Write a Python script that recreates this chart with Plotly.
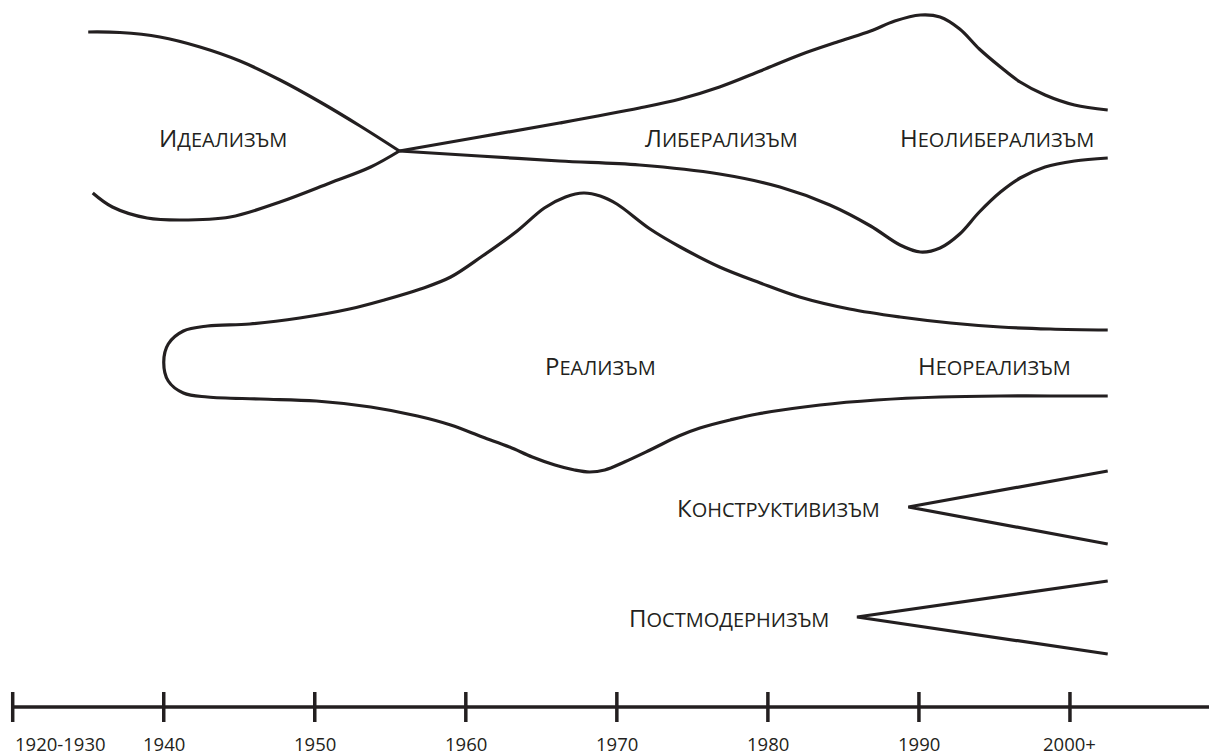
import plotly.graph_objects as go

INK = "#231f20"

# ---- timeline ----
tick_years = [1930, 1940, 1950, 1960, 1970, 1980, 1990, 2000]
tick_labels = ["1920-1930", "1940", "1950", "1960", "1970", "1980", "1990", "2000+"]
axis_end_year = 2009.6
axis_level = 707

# ---- curves (x = year, y = vertical position in diagram units, top = 0) ----
ideal_upper_x = [1935.0, 1937.1, 1939.75, 1942.4, 1945.05, 1947.7, 1950.35, 1953.0, 1955.6]
ideal_upper_y = [32, 32.5, 37, 47, 61, 80, 102, 126, 151]
ideal_lower_x = [1935.3, 1936.6, 1938.9, 1941.1, 1944.4, 1947.7, 1951.0, 1953.7, 1955.6]
ideal_lower_y = [193, 207, 218, 220, 217, 202, 183, 167, 151]

lib_upper_x = [1955.6, 1960.9, 1966.2, 1971.5, 1974.2, 1976.8, 1979.5, 1982.1, 1984.8,
               1986.8, 1988.4, 1990.1, 1991.4, 1992.7, 1994.0, 1995.4, 1996.7, 1998.35,
               2000.3, 2002.5]
lib_upper_y = [151, 137, 123, 108, 99, 87, 71, 55, 41, 31, 21, 15, 17, 29, 49, 67, 82, 95,
               105, 110]
lib_lower_x = [1955.6, 1960.9, 1966.2, 1971.5, 1976.8, 1980.8, 1984.1, 1986.8, 1988.75,
               1990.1, 1991.4, 1992.7, 1994.0, 1995.4, 1996.7, 1998.35, 2000.3, 2002.5]
lib_lower_y = [151, 156, 161, 165, 174, 187, 205, 226, 245, 252, 248, 234, 212, 192, 178,
               167, 161, 158]

real_x = [2002.5, 1998.7, 1995.4, 1992.1, 1988.75, 1985.4, 1982.1, 1979.5, 1976.8, 1974.2,
          1972.2, 1970.0, 1968.9, 1967.8, 1966.6, 1965.2, 1963.4, 1961.1, 1959.0, 1957.0,
          1954.6, 1952.3, 1949.0, 1945.7, 1942.9,
          1941.3, 1940.3, 1940.0, 1940.3, 1941.3, 1942.9,
          1946.4, 1950.1, 1953.7, 1956.8, 1959.0, 1961.1, 1962.9, 1964.4, 1965.9, 1967.2,
          1968.2, 1969.2, 1970.5, 1972.2, 1974.1, 1975.5, 1977.5, 1979.3, 1983.45, 1987.2,
          1991.4, 1995.4, 1998.7, 2002.5]
real_y = [330, 329, 327, 323, 317, 309, 297, 283, 267, 247,
          229, 204, 196, 193, 197, 208, 231, 256, 277, 289,
          300, 309, 318, 324, 326,
          331, 344, 362, 381, 393, 397,
          399, 401, 407, 416, 425, 437, 447, 457, 465, 470,
          472, 470, 462, 450, 436, 428, 420, 414, 405, 400,
          397, 396, 396, 396]

constr_x = [2002.5, 1989.3, 2002.5]
constr_y = [471, 507, 544]
postm_x = [2002.5, 1985.9, 2002.5]
postm_y = [581, 617, 654]

# ---- labels ----
label_text = ["Идеализъм", "Либерализъм", "Неолиберализъм", "Реализъм",
              "Неореализъм", "Конструктивизъм", "Постмодернизъм"]
label_x = [1943.9, 1976.9, 1995.2, 1968.9, 1995.0, 1980.7, 1977.4]
label_y = [137, 137, 137, 365, 365, 507, 617]

FONT = "Open Sans, Noto Sans, sans-serif"

fig = go.Figure()

def curve(xs, ys, shape="spline"):
    fig.add_trace(go.Scatter(
        x=xs, y=ys, mode="lines",
        line=dict(color=INK, width=3.2, shape=shape, smoothing=1.0),
        hoverinfo="skip", showlegend=False))

curve(ideal_upper_x, ideal_upper_y)
curve(ideal_lower_x, ideal_lower_y)
curve(lib_upper_x, lib_upper_y)
curve(lib_lower_x, lib_lower_y)
curve(real_x, real_y)
curve(constr_x, constr_y, "linear")
curve(postm_x, postm_y, "linear")

# timeline axis line
fig.add_trace(go.Scatter(
    x=[tick_years[0], axis_end_year], y=[axis_level, axis_level], mode="lines",
    line=dict(color=INK, width=3.5), hoverinfo="skip", showlegend=False))
# tick marks
tx, ty = [], []
for t in tick_years:
    tx += [t, t, None]
    ty += [axis_level - 15, axis_level + 15, None]
fig.add_trace(go.Scatter(
    x=tx, y=ty, mode="lines", line=dict(color=INK, width=3.5),
    hoverinfo="skip", showlegend=False))

annotations = []
for i, (t, lab) in enumerate(zip(tick_years, tick_labels)):
    annotations.append(dict(
        x=t, y=743, xref="x", yref="y", text=lab, showarrow=False,
        xanchor="left" if i == 0 else "center", yanchor="middle",
        font=dict(family=FONT, size=18.5, color=INK)))

for txt, x, y in zip(label_text, label_x, label_y):
    styled = ('<span style="font-size:24px">' + txt[0] + '</span>'
              + txt[1:].upper())
    annotations.append(dict(
        x=x, y=y, xref="x", yref="y", text=styled, showarrow=False,
        xanchor="center", yanchor="middle",
        font=dict(family=FONT, size=20, color=INK)))

# the page body has an 8px margin: the figure is placed at (8, 8)
fig.update_layout(
    width=1209, height=748,
    margin=dict(l=0, r=0, t=0, b=0),
    paper_bgcolor="white", plot_bgcolor="white",
    xaxis=dict(range=[1929.689, 2009.735], visible=False, fixedrange=True),
    yaxis=dict(range=[756, 8], visible=False, fixedrange=True),
    annotations=annotations,
    showlegend=False,
)

fig.write_html("out.html")
